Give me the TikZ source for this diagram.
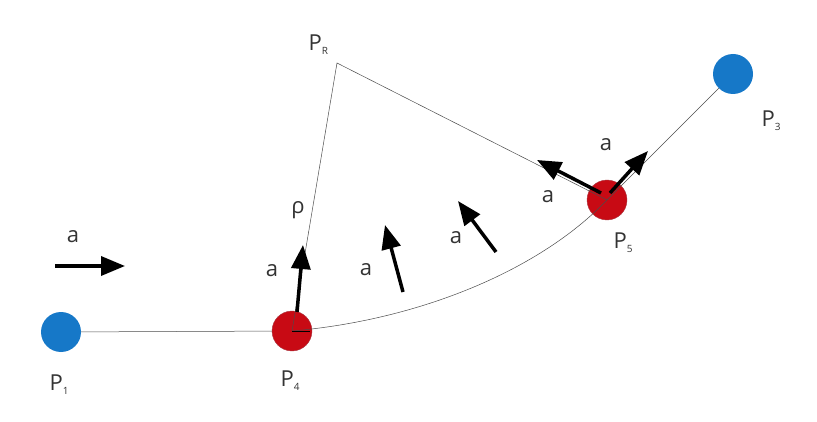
\documentclass[tikz,border=0pt]{standalone}
\usepackage{fontspec}
\setmainfont{Open Sans}
\usetikzlibrary{arrows.meta}
\begin{document}
\begin{tikzpicture}[x=1pt,y=-1pt,
  thin line/.style={draw=black!70,line width=0.5pt},
  vec/.style={line width=3.5pt,-{Triangle[length=24pt,width=19pt]}},
  blue pt/.style={circle,fill={rgb,255:red,22;green,120;blue,200},minimum size=40pt,inner sep=0pt},
  red pt/.style={circle,fill={rgb,255:red,200;green,10;blue,20},draw={rgb,255:red,170;green,60;blue,70},minimum size=40pt,inner sep=0pt},
  lab/.style={font=\fontsize{22}{22}\selectfont,text=black!80}]
\useasboundingbox (0,0) rectangle (817,422);
\coordinate (PR) at (337,63);
\node[blue pt] (P1) at (61,332) {};
\node[red pt] (P4) at (292,331) {};
\node[red pt] (P5) at (607,200) {};
\node[blue pt] (P3) at (733,74) {};
\draw[thin line] (P1) -- (P4);
\draw[thin line] (P4.center) -- (PR) -- (P5.center);
\draw[thin line] (P4.center) .. controls (420,320) and (540,270) .. (P5.center);
\draw[thin line] (P5.center) -- (P3);
\draw[line width=0.8pt] (P4.center) -- (310,331);
\coordinate (a1s) at (55,266); \coordinate (a1e) at (125,266);
\draw[vec] (a1s) -- (a1e);
\coordinate (a2s) at (297,312); \coordinate (a2e) at (303,245);
\draw[vec] (a2s) -- (a2e);
\coordinate (a3s) at (403,292); \coordinate (a3e) at (385,225);
\draw[vec] (a3s) -- (a3e);
\coordinate (a4s) at (496,252); \coordinate (a4e) at (458,201);
\draw[vec] (a4s) -- (a4e);
\coordinate (a5s) at (601,193); \coordinate (a5e) at (537,160);
\coordinate (a6s) at (610,193); \coordinate (a6e) at (648,151);
\draw[vec] (a5s) -- (a5e);
\draw[vec] (a6s) -- (a6e);
\node[lab] (la1) at (73,237) {a};
\node[lab] (la2) at (272,271) {a};
\node[lab] (la3) at (366,270) {a};
\node[lab] (la4) at (456,238) {a};
\node[lab] (la5) at (548,197) {a};
\node[lab] (la6) at (606,145) {a};
\node[lab] (lrho) at (298,210) {ρ};
\node[lab,anchor=west] (lPR) at (305,45) {P\raisebox{-4pt}{\fontsize{10}{10}\selectfont R}};
\node[lab,anchor=west] (lP1) at (46,385) {P\raisebox{-4pt}{\fontsize{10}{10}\selectfont 1}};
\node[lab,anchor=west] (lP4) at (277,381) {P\raisebox{-4pt}{\fontsize{10}{10}\selectfont 4}};
\node[lab,anchor=west] (lP5) at (610,243) {P\raisebox{-4pt}{\fontsize{10}{10}\selectfont 5}};
\node[lab,anchor=west] (lP3) at (758,121) {P\raisebox{-4pt}{\fontsize{10}{10}\selectfont 3}};
\end{tikzpicture}
\end{document}
